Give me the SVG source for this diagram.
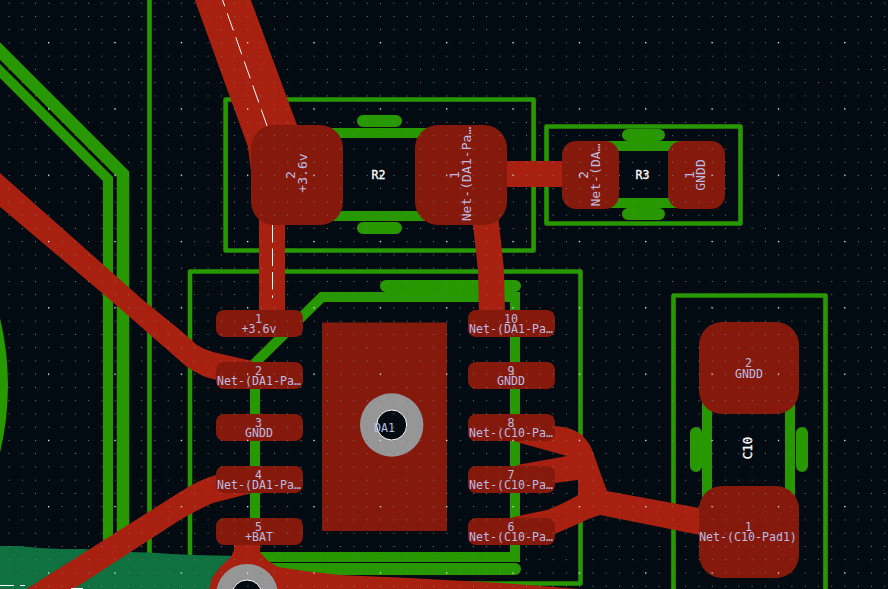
<svg xmlns="http://www.w3.org/2000/svg" width="888" height="589" viewBox="0 0 888 589">
<style>
.silk{fill:none;stroke:#279800;stroke-linecap:round;stroke-linejoin:miter}
.out{fill:none;stroke:#279800;stroke-width:4.6;stroke-linejoin:round}
.cu{fill:#a82010;stroke:none}
.tr{fill:none;stroke:#a82010;stroke-width:26;stroke-linejoin:round}
.pad{fill:#851a0c}
.t{font-family:"DejaVu Sans Mono","Liberation Mono",monospace;font-size:11.6px;fill:#bcbce0;text-anchor:middle}
.b{font-size:13.1px}
.w{fill:#fff;stroke:#fff;stroke-width:.3px;font-size:11.6px}
.c{font-size:12.4px}
</style>
<defs>
<pattern id="minor" patternUnits="userSpaceOnUse" x="8.5" y="2.7" width="13.27" height="13.25"><rect width="1" height="1" fill="#7a7a7a"/></pattern>
<pattern id="major" patternUnits="userSpaceOnUse" x="48" y="42" width="66.35" height="66.3"><rect width="1.2" height="1.2" fill="#fff"/></pattern>
</defs>
<rect width="888" height="589" fill="#020a12"/>
<g id="board">
<path d="M0,318 Q16,385 0,453 Z" fill="#279800"/>
<path d="M-10,41 L123,174 V560" fill="none" stroke="#279800" stroke-width="12.5"/>
<path d="M-10,61 L108,179 V560" fill="none" stroke="#279800" stroke-width="10"/>
<path d="M149.500,0 V560" fill="none" stroke="#279800" stroke-width="4.700"/>
</g>
<g id="silk-DA1">
<path class="out" d="M190,560 V271.500 H580.500 V583.500 H440"/>
<path class="silk" stroke-width="12" d="M386,286 H515"/>
<path class="silk" stroke-width="10" d="M255,557 V363 L322,297 H515 V557 H255"/>
<path class="silk" stroke-width="12" d="M262,569 H515"/>
</g>
<g id="silk-R2">
<rect class="out" x="225.600" y="99.500" width="308" height="151"/>
<path class="silk" stroke-width="10" stroke-linecap="butt" d="M320,133 H440 M320,216 H440"/>
<path class="silk" stroke-width="12" d="M363,121 H396 M363,228 H396"/>
</g>
<g id="silk-R3">
<rect class="out" x="546.500" y="126.500" width="194" height="97"/>
<path class="silk" stroke-width="10" stroke-linecap="butt" d="M605,146 H682 M605,203 H682"/>
<path class="silk" stroke-width="12" d="M628,135 H659 M628,214 H659"/>
</g>
<g id="silk-C10">
<path class="out" d="M673.500,595 V295.500 H825.500 V595"/>
<path class="silk" stroke-width="10" stroke-linecap="butt" d="M707,395 V505 M790,395 V505"/>
<path class="silk" stroke-width="12" d="M696,433 V466 M802,433 V466"/>
</g>
<path id="zone" d="M0,546 H18 L40,548 62,549 83,549 130,552 150,552.500 172,554 193,555 240,556 V589 H0 Z" fill="#0f7040"/>
<g id="connectors">
<path class="cu" d="M193,-5 H249 L297,125 305,145 V180 H252 L248,147 Z"/>
<path class="tr" d="M272,215 V315"/>
<path class="tr" d="M485,215 L491,270 L492,315"/>
<path class="tr" d="M500,174 H570"/>
<path class="cu" d="M-1,172 L143,300 180,330 197,345 Q205,350 213,352 L252,361 V388 L217,380 Q208,378 203,376 Q195,372 187,367 L108,298 -1,206 Z"/>
<path class="cu" d="M25,590 L180,492 Q198,480 216,475 L250,470 L252,493 L213,503 Q197,510 180,520 L72,590 Z"/>
<path class="cu" d="M234,540 H260 V552 L267,560 278,567 305,571 340,575 410,578 500,583 580,589 H209 L212,578 220,567 231,557 234,550 Z"/>
<path class="cu" d="M513,427 L555,426 Q572,427 582,435 Q591,445 593,452 L600,472 607,491 705,509 V536 L600,515 Q590,518 580,523 L555,534 H513 V517 L547,510 Q565,503 578,495 L578,480 555,483 H513 L517,465 567,456 513,441 Z"/>
<path d="M218.800,-10.700 L268.500,130" fill="none" stroke="#fff" stroke-width="1" stroke-dasharray="18 7.500"/>
<path d="M272.500,225 V298" fill="none" stroke="#fff" stroke-width="1" stroke-dasharray="17.500 6"/>
<path d="M0,585.500 H14 M20,585.500 H25 M71,588.500 H83" fill="none" stroke="#fff" stroke-width="1"/>
</g>
<g id="R2">
<rect class="pad" x="251" y="125" width="92" height="100" rx="23"/>
<rect class="pad" x="415" y="125" width="92" height="100" rx="23"/>
<text class="t b" transform="translate(295,175) rotate(-90)">2</text>
<text class="t b" transform="translate(307,173) rotate(-90)">+3.6v</text>
<text class="t b" transform="translate(459,175) rotate(-90)">1</text>
<text class="t b" transform="translate(471,174) rotate(-90)">Net-(DA1-Pa…</text>
<text class="t w" x="378.500" y="179">R2</text>
</g>
<g id="R3">
<rect class="pad" x="562" y="141" width="57" height="68" rx="14"/>
<rect class="pad" x="668" y="141" width="57" height="68" rx="14"/>
<text class="t b" transform="translate(588,175) rotate(-90)">2</text>
<text class="t b" transform="translate(599.500,175) rotate(-90)">Net-(DA…</text>
<text class="t b" transform="translate(694,175) rotate(-90)">1</text>
<text class="t b" transform="translate(705,175) rotate(-90)">GNDD</text>
<text class="t w" x="642.500" y="179">R3</text>
</g>
<g id="C10">
<rect class="pad" x="699" y="322" width="100" height="92" rx="23"/>
<rect class="pad" x="699" y="486" width="100" height="92" rx="23"/>
<text class="t" x="748.500" y="367">2</text>
<text class="t" x="749" y="377.500">GNDD</text>
<text class="t" x="748.500" y="531">1</text>
<text class="t" x="748" y="541">Net-(C10-Pad1)</text>
<text class="t w c" transform="translate(751.500,448) rotate(-90)">C10</text>
</g>
<g id="DA1">
<rect class="pad" x="322" y="322.500" width="125" height="208.500"/>
<circle cx="391.700" cy="425" r="31.700" fill="#969696"/>
<circle cx="391.700" cy="425" r="15" fill="#020a12" stroke="#fff" stroke-width="1"/>
<text class="t" x="384.500" y="432">DA1</text>
<rect class="pad" x="216" y="310" width="87" height="27" rx="8"/>
<rect class="pad" x="216" y="362" width="87" height="27" rx="8"/>
<rect class="pad" x="216" y="414" width="87" height="27" rx="8"/>
<rect class="pad" x="216" y="466" width="87" height="27" rx="8"/>
<rect class="pad" x="216" y="518" width="87" height="27" rx="8"/>
<rect class="pad" x="468" y="310" width="87" height="27" rx="8"/>
<rect class="pad" x="468" y="362" width="87" height="27" rx="8"/>
<rect class="pad" x="468" y="414" width="87" height="27" rx="8"/>
<rect class="pad" x="468" y="466" width="87" height="27" rx="8"/>
<rect class="pad" x="468" y="518" width="87" height="27" rx="8"/>
<text class="t" x="258.500" y="323">1</text><text class="t" x="259" y="333">+3.6v</text>
<text class="t" x="258.500" y="375">2</text><text class="t" x="259" y="385">Net-(DA1-Pa…</text>
<text class="t" x="258.500" y="427">3</text><text class="t" x="259" y="437">GNDD</text>
<text class="t" x="258.500" y="479">4</text><text class="t" x="259" y="489">Net-(DA1-Pa…</text>
<text class="t" x="258.500" y="531">5</text><text class="t" x="259" y="541">+BAT</text>
<text class="t" x="511" y="323">10</text><text class="t" x="511" y="333">Net-(DA1-Pa…</text>
<text class="t" x="511" y="375">9</text><text class="t" x="511" y="385">GNDD</text>
<text class="t" x="511" y="427">8</text><text class="t" x="511" y="437">Net-(C10-Pa…</text>
<text class="t" x="511" y="479">7</text><text class="t" x="511" y="489">Net-(C10-Pa…</text>
<text class="t" x="511" y="531">6</text><text class="t" x="511" y="541">Net-(C10-Pa…</text>
</g>
<g id="via">
<circle cx="247" cy="595" r="31" fill="#969696"/>
<circle cx="247" cy="595" r="15" fill="#020a12" stroke="#fff" stroke-width="1"/>
</g>
<g id="grid">
<rect width="888" height="589" fill="url(#minor)"/>
<rect width="888" height="589" fill="url(#major)"/>
</g>
</svg>
